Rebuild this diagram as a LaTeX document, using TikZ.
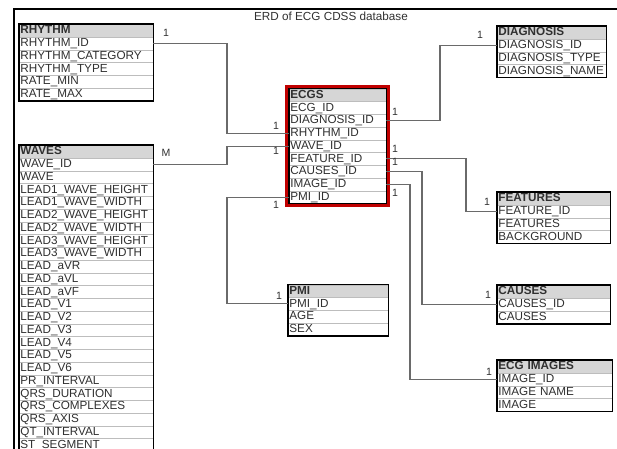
\documentclass[tikz,border=0pt]{standalone}
\usepackage{fontspec}
\setmainfont{Liberation Sans}
\usepackage{xcolor}
\usepackage{tikz}
\definecolor{headc}{HTML}{D6D6D6}
\definecolor{gridc}{HTML}{BDBDBD}
\definecolor{linkc}{HTML}{6A6A6A}
\definecolor{textc}{HTML}{303030}
\definecolor{keyc}{HTML}{C00000}

\tikzset{
  field/.style={draw=gridc, fill=white, anchor=north west, inner xsep=1pt, inner ysep=0pt,
    minimum height=0.3825cm, text height=7.3pt, text depth=1.7pt, align=left,
    font=\fontsize{10}{10}\selectfont, text=textc},
  head/.style={field, fill=headc, font=\fontsize{10}{10}\selectfont\bfseries},
  tableframe/.style={line width=1.6pt},
  link/.style={draw=linkc, line width=0.9pt},
  card/.style={font=\fontsize{9}{9}\selectfont, text=textc, inner sep=0pt},
}

% one table: name, x, y, width (px), header, fields
\newcommand{\erdtable}[6]{%
  \pgfmathsetlengthmacro{\tw}{#4*0.03cm-2pt}
  \node[head, text width=\tw] (#1-0) at (#2,#3) {#5};
  \foreach \fld [count=\k] in {#6}
    \node[field, text width=\tw] (#1-\k) at (#2,#3+\k*12.75) {\fld};
}

\begin{document}
\begin{tikzpicture}[x=0.03cm, y=-0.03cm]
  \useasboundingbox (0,0) rectangle (617,449);
  \draw[line width=1.4pt] (617,9) -- (14,9) -- (14,452);
  \node[font=\fontsize{10}{12}\selectfont, text=textc] (title) at (331,16) {ERD of ECG CDSS database};

  % tables
  \erdtable{rhythm}{19}{24}{134}{RHYTHM}{RHYTHM\_ID, RHYTHM\_CATEGORY, RHYTHM\_TYPE, RATE\_MIN, RATE\_MAX}
  \erdtable{waves}{19}{145}{134}{WAVES}{WAVE\_ID, WAVE, LEAD1\_WAVE\_HEIGHT, LEAD1\_WAVE\_WIDTH,
    LEAD2\_WAVE\_HEIGHT, LEAD2\_WAVE\_WIDTH, LEAD3\_WAVE\_HEIGHT, LEAD3\_WAVE\_WIDTH,
    LEAD\_aVR, LEAD\_aVL, LEAD\_aVF, LEAD\_V1, LEAD\_V2, LEAD\_V3, LEAD\_V4, LEAD\_V5, LEAD\_V6,
    PR\_INTERVAL, QRS\_DURATION, QRS\_COMPLEXES, QRS\_AXIS, QT\_INTERVAL, ST\_SEGMENT}
  \erdtable{ecgs}{289}{88.6}{97}{ECGS}{ECG\_ID, DIAGNOSIS\_ID, RHYTHM\_ID, WAVE\_ID, FEATURE\_ID,
    CAUSES\_ID, IMAGE\_ID, PMI\_ID}
  \erdtable{diagnosis}{497}{26}{109}{DIAGNOSIS}{DIAGNOSIS\_ID, DIAGNOSIS\_TYPE, DIAGNOSIS\_NAME}
  \erdtable{features}{497}{192}{113}{FEATURES}{FEATURE\_ID, FEATURES, BACKGROUND}
  \erdtable{pmi}{288}{284.5}{100}{PMI}{PMI\_ID, AGE, SEX}
  \erdtable{causes}{497}{285}{113}{CAUSES}{CAUSES\_ID, CAUSES}
  \erdtable{images}{497}{360}{115}{ECG IMAGES}{IMAGE\_ID, IMAGE NAME, IMAGE}

  \draw[tableframe] (rhythm-0.north west) rectangle (rhythm-5.south east);
  \draw[tableframe] (waves-0.north west) rectangle (waves-23.south east);
  \draw[tableframe] (diagnosis-0.north west) rectangle (diagnosis-3.south east);
  \draw[tableframe] (features-0.north west) rectangle (features-3.south east);
  \draw[tableframe] (pmi-0.north west) rectangle (pmi-3.south east);
  \draw[tableframe] (causes-0.north west) rectangle (causes-2.south east);
  \draw[tableframe] (images-0.north west) rectangle (images-3.south east);
  \draw[keyc, line width=2.6pt] ([shift={(-1.8pt,1.8pt)}]ecgs-0.north west) rectangle ([shift={(1.8pt,-1.8pt)}]ecgs-8.south east);
  \draw[line width=0.9pt] (ecgs-0.north west) rectangle (ecgs-8.south east);

  % bends of the links
  \coordinate (bendl) at (227,0);
  \coordinate (bendi) at (410,0);
  \coordinate (bendc) at (422,0);
  \coordinate (bendd) at (440,0);
  \coordinate (bendf) at (466,0);

  \draw[link] (rhythm-1.east) -- (rhythm-1.east -| bendl) |- (ecgs-3.west);
  \draw[link] (waves-1.east) -- (waves-1.east -| bendl) |- (ecgs-4.west);
  \draw[link] (ecgs-8.west) -- (ecgs-8.west -| bendl) |- (pmi-1.west);
  \draw[link] (ecgs-2.east) -- (ecgs-2.east -| bendd) |- (diagnosis-1.west);
  \draw[link] (ecgs-5.east) -- (ecgs-5.east -| bendf) |- (features-1.west);
  \draw[link] (ecgs-6.east) -- (ecgs-6.east -| bendc) |- (causes-1.west);
  \draw[link] (ecgs-7.east) -- (ecgs-7.east -| bendi) |- (images-1.west);

  % cardinalities
  \node[card] (c-rhythm) at (166,33) {1};
  \node[card] (c-ecgsr) at (276,126) {1};
  \node[card] (c-waves) at (166,153) {M};
  \node[card] (c-ecgsw) at (276,151) {1};
  \node[card] (c-ecgsp) at (276,205) {1};
  \node[card] (c-pmi) at (279,296) {1};
  \node[card] (c-ecgsd) at (395,112) {1};
  \node[card] (c-ecgsf) at (395,149) {1};
  \node[card] (c-ecgsc) at (395,162) {1};
  \node[card] (c-ecgsi) at (395,193) {1};
  \node[card] (c-diagnosis) at (480,35) {1};
  \node[card] (c-features) at (487,202) {1};
  \node[card] (c-causes) at (488,295) {1};
  \node[card] (c-images) at (489,372) {1};
\end{tikzpicture}
\end{document}
